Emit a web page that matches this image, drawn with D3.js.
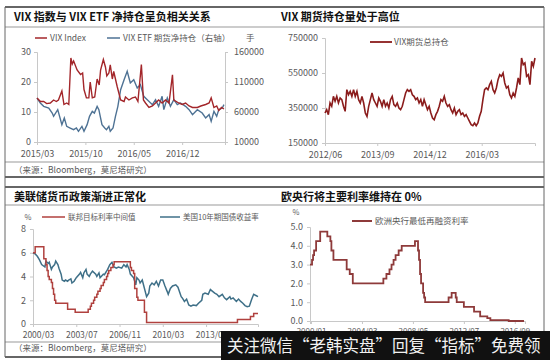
<!DOCTYPE html>
<html><head><meta charset="utf-8">
<script src="https://cdn.jsdelivr.net/npm/d3@7"></script>
<style>
body{margin:0;background:#fff}
svg{display:block}
text{font-family:"Noto Sans CJK SC","Noto Sans",sans-serif}
</style>
</head><body>
<svg id="c" width="550" height="360"></svg>
<script>
// ---------- Panel 1: VIX index vs VIX ETF net holdings ----------
const p1Start = "2015/03";
const vixMonth = [0,0.5,0.97,1.4,1.93,2.4,2.8,3.1,3.6,3.9,4.3,4.6,4.9,5.1,5.3,5.8,6.3,6.6,6.8,7.15,7.5,7.7,8.0,8.35,8.7,9.0,9.2,9.6,9.9,10.1,10.4,10.6,10.9,11.1,11.6,12.1,12.6,12.8,13.3,13.8,14.25,14.6,15.1,15.4,15.7,16.2,16.7,17.15,17.6,18.1,18.6,19.1,19.6,19.8,20.5,21.0,21.5,22.0,22.5,23.2,23.7,24.4,24.9,25.2,25.6,26.0,26.3,26.7,27.05];
const vixIndex = [14.7,13.5,13.5,12.8,13,14,13.5,14,17,12.5,13,12.5,28,26,27,24,22.5,23,17.5,14.7,14.7,20,14.7,15,21,19,24,27.5,25,22,23,25.7,21,23.5,18.5,14,13.5,15,14,14.7,15,13.5,25.8,14,13,11.5,12,13,14,13,14,13,22.4,14,13,12.5,13,12,11.5,11.5,12,12.5,13,14.7,11.5,12,10.5,11.5,11];
const etfMonth = [0,0.48,0.97,1.7,2.2,2.4,3.0,3.6,3.95,4.3,4.8,5.3,5.7,6.0,6.5,6.8,7.25,7.6,8.0,8.3,8.7,8.95,9.4,9.8,10.05,10.4,10.6,11.0,11.35,11.7,12.1,12.6,13.05,13.5,14.0,14.5,14.95,15.45,15.95,16.7,17.15,17.6,18.1,18.35,18.85,19.3,19.8,20.3,20.75,21.5,22.0,22.5,23.2,23.9,24.4,24.9,25.2,25.6,26.0,26.3,26.8,27.05];
const etfHold = [83300,75000,69400,66700,58300,52800,63900,38900,50000,36100,33300,30600,33300,27800,36100,27800,38900,52800,61100,58300,69400,63900,38900,33300,30600,36100,27800,33300,52800,69400,97200,113900,127800,108300,113900,100000,105600,86100,80600,72200,80600,69400,86100,63900,83300,69400,80600,72200,75000,69400,63900,55600,63900,58300,50000,55600,44400,61100,52800,63900,66700,72200];
const p1Ticks = ["2015/03","2015/10","2016/05","2016/12"];
const p1LeftTicks = [0,10,20,30];
const p1RightTicks = [10000,60000,110000,160000];

// ---------- Panel 2: VIX futures total open interest (biweekly) ----------
const oiStart = "2012/06";
const oiSpanMonths = 60.3;
const oiTotal = [321500,340500,312000,378600,359600,416700,388000,416700,378600,407000,
397700,359600,331000,454800,426000,445000,416700,454800,416700,445000,
397700,378600,416700,378600,321500,302400,359600,397700,435800,397700,
378600,359600,407000,388000,359600,397700,359600,378600,350000,397700,
416700,369000,359600,378600,350000,340500,359600,397700,435800,454800,
445000,454800,426000,416700,397700,407000,378600,397700,359600,397700,
369000,340500,359600,321500,292900,283400,312000,331000,359600,397700,
388000,416700,378600,359600,369000,340500,321500,350000,312000,331000,
340500,312000,321500,302400,312000,292900,273800,254800,249000,264300,
249000,264300,302400,331000,397700,454800,464300,454800,483400,502400,
454800,435800,464300,512000,540500,531000,550000,492900,464300,474000,
426000,407000,435800,416700,464300,521500,483400,635800,597700,607000,
531000,540500,483400,616700,588000,635800];
const p2Ticks = ["2012/06","2013/09","2014/12","2016/03"];
const p2YTicks = [150000,350000,550000,750000];

// ---------- Panel 3: Fed target rate & US 10Y ----------
const fedDate = ["2000/03","2000/05","2001/01","2001/03","2001/04","2001/05","2001/06","2001/08","2001/09","2001/10","2001/11","2001/12","2002/11","2003/06","2004/06","2004/08","2004/09","2004/11","2004/12","2005/02","2005/03","2005/05","2005/06","2005/08","2005/09","2005/11","2005/12","2006/01","2006/03","2006/05","2006/06","2007/09","2007/10","2007/12","2008/01","2008/03","2008/04","2008/10","2008/12","2015/12","2016/12","2017/03","2017/07"];
const fedRate = [6.0,6.5,5.5,5.0,4.5,4.0,3.75,3.5,3.0,2.5,2.0,1.75,1.25,1.0,1.25,1.5,1.75,2.0,2.25,2.5,2.75,3.0,3.25,3.5,3.75,4.0,4.25,4.5,4.75,5.0,5.25,4.75,4.5,4.25,3.0,2.25,2.0,1.0,0.125,0.375,0.625,0.875,0.875];
const ustDate = ["2000/03","2000/05","2000/07","2000/09","2000/11","2001/02","2001/03","2001/05","2001/06","2001/08","2001/09","2001/11","2001/12","2002/02","2002/03","2002/05","2002/06","2002/08","2002/09","2002/11","2002/12","2003/02","2003/03","2003/05","2003/07","2003/10","2003/11","2004/01","2004/02","2004/04","2004/05","2004/07","2004/08","2004/10","2005/01","2005/02","2005/04","2005/05","2005/08","2005/09","2005/12","2006/02","2006/04","2006/06","2006/08","2006/10","2007/01","2007/03","2007/05","2007/06","2007/08","2007/09","2007/11","2007/12","2008/02","2008/03","2008/05","2008/06","2008/08","2008/12","2009/02","2009/03","2009/05","2009/07","2009/09","2009/11","2010/01","2010/03","2010/05","2010/07","2010/08","2010/10","2010/12","2011/03","2011/05","2011/08","2011/09","2011/11","2012/01","2012/03","2012/05","2012/07","2012/10","2012/12","2013/03","2013/04","2013/06","2013/09","2013/11","2014/01","2014/03","2014/05","2014/07","2014/10","2014/12","2015/02","2015/05","2015/06","2015/08","2015/11","2016/01","2016/03","2016/05","2016/07","2016/09","2016/11","2017/01","2017/03","2017/05","2017/07"];
const ustYield = [6.0,5.9,5.7,5.4,5.0,4.8,5.3,5.1,5.2,4.6,4.8,5.0,5.3,5.0,4.7,4.2,3.7,3.6,3.7,3.6,3.7,3.8,3.45,3.6,3.9,4.2,4.35,3.9,4.3,4.6,4.2,4.0,4.2,4.45,4.2,4.0,4.3,3.9,4.2,4.15,4.6,5.0,5.2,4.8,4.7,4.8,4.7,5.0,4.8,5.0,4.6,4.2,4.0,3.9,3.3,3.9,3.7,3.45,3.7,2.3,2.6,3.2,3.45,3.3,3.6,3.2,3.7,3.7,3.2,2.75,2.5,3.0,3.2,3.3,3.1,2.3,2.2,1.9,2.1,1.6,1.5,1.6,1.55,1.75,2.0,2.5,2.6,2.5,2.9,2.75,2.6,2.5,2.3,2.5,2.2,2.05,2.3,2.1,2.2,1.9,2.1,1.9,1.75,1.55,1.45,1.5,2.05,2.5,2.4,2.3];
const p3Ticks = ["2000/03","2003/07","2006/11","2010/03","2013/07"];
const p3YTicks = [0,2,4,6,8];

// ---------- Panel 4: ECB main refinancing rate ----------
const ecbDate = ["1999/12","2000/02","2000/03","2000/04","2000/06","2000/10","2001/05","2001/08","2001/09","2001/11","2002/12","2003/03","2003/06","2005/12","2006/03","2006/06","2006/08","2006/10","2006/12","2007/03","2007/06","2008/07","2008/10","2008/11","2008/12","2009/01","2009/03","2009/04","2009/05","2011/04","2011/07","2011/11","2011/12","2012/07","2013/05","2013/11","2014/06","2014/09","2016/03","2017/06"];
const ecbRate = [3.0,3.25,3.5,3.75,4.25,4.75,4.5,4.25,3.75,3.25,2.75,2.5,2.0,2.25,2.5,2.75,3.0,3.25,3.5,3.75,4.0,4.25,3.75,3.25,2.5,2.0,1.5,1.25,1.0,1.25,1.5,1.25,1.0,0.75,0.5,0.25,0.15,0.05,0.0,0.0];
const p4Ticks = ["2000/01","2004/03","2008/05","2012/07","2016/09"];
const p4YTicks = [0,1,2,3,4,5];

// ---------- helpers ----------
const M = s => { const [y, m] = s.split("/").map(Number); return y * 12 + m - 1; };
const svg = d3.select("#c");
const TICK = "#595959", AXIS = "#c8c8c8";
const plain = d3.format("d");

function line(x1, y1, x2, y2, color, w) {
  svg.append("line").attr("x1", x1).attr("y1", y1).attr("x2", x2).attr("y2", y2)
    .attr("stroke", color).attr("stroke-width", w);
}
function txt(x, y, s, size, opts = {}) {
  return svg.append("text").attr("x", x).attr("y", y).text(s)
    .attr("font-size", size).attr("fill", opts.fill || TICK)
    .attr("font-weight", opts.weight || "normal")
    .attr("text-anchor", opts.anchor || "start");
}
function styleAxis(g, size) {
  g.select(".domain").attr("stroke", AXIS);
  g.selectAll(".tick line").attr("stroke", AXIS);
  g.selectAll("text").attr("fill", TICK).attr("font-size", size)
    .attr("font-family", "'Noto Sans','DejaVu Sans',sans-serif");
}

// ---------- frames ----------
line(5, 7, 544, 7, "#333", 1.5);
line(5, 27, 544, 27, "#999", 1);
line(5, 162, 544, 162, "#999", 1);
line(5, 177, 544, 177, "#333", 1.5);
line(5, 187, 544, 187, "#333", 1.5);
line(5, 205, 544, 205, "#999", 1);
line(5, 342, 272, 342, "#999", 1);
line(5, 357, 544, 357, "#333", 1.5);
line(5, 7, 5, 357, "#666", 1);
line(544, 7, 544, 357, "#666", 1);

// ---------- Panel 1 ----------
txt(14, 21, "VIX 指数与 VIX ETF 净持仓呈负相关关系", 11, {fill: "#111", weight: "bold"});
const x1 = d3.scaleLinear().domain([M(p1Start), M(p1Start) + 27.2]).range([37, 225]);
const y1L = d3.scaleLinear().domain([0, 30]).range([142, 52]);
const y1R = d3.scaleLinear().domain([10000, 160000]).range([142, 52]);
styleAxis(svg.append("g").attr("transform", "translate(37,0)")
  .call(d3.axisLeft(y1L).tickValues(p1LeftTicks).tickSize(3).tickPadding(3)), 9);
styleAxis(svg.append("g").attr("transform", "translate(225,0)")
  .call(d3.axisRight(y1R).tickValues(p1RightTicks).tickFormat(plain).tickSize(3).tickPadding(6)), 9);
styleAxis(svg.append("g").attr("transform", "translate(0,142)")
  .call(d3.axisBottom(x1).tickValues(p1Ticks.map(M)).tickFormat((d, i) => p1Ticks[i]).tickSize(3).tickPadding(6)), 9);
svg.append("path").datum(etfMonth.map((m, i) => [M(p1Start) + m, etfHold[i]]))
  .attr("fill", "none").attr("stroke", "#4e7294").attr("stroke-width", 1.4)
  .attr("d", d3.line().x(d => x1(d[0])).y(d => y1R(d[1])));
svg.append("path").datum(vixMonth.map((m, i) => [M(p1Start) + m, vixIndex[i]]))
  .attr("fill", "none").attr("stroke", "#a3262a").attr("stroke-width", 1.4)
  .attr("d", d3.line().x(d => x1(d[0])).y(d => y1L(d[1])));
line(35, 38, 47, 38, "#a3262a", 1.5);
txt(50, 41, "VIX Index", 8.5);
line(107, 38, 120, 38, "#4e7294", 1.5);
txt(123, 41, "VIX ETF 期货净持仓（右轴）", 8.5);
txt(246, 41, "手", 8.5);
txt(14, 173, "（来源：Bloomberg，莫尼塔研究）", 8.5);

// ---------- Panel 2 ----------
txt(281, 21, "VIX 期货持仓量处于高位", 11, {fill: "#111", weight: "bold"});
const x2 = d3.scaleLinear().domain([M(oiStart), M(oiStart) + oiSpanMonths]).range([325, 535]);
const y2 = d3.scaleLinear().domain([150000, 750000]).range([143, 38]);
styleAxis(svg.append("g").attr("transform", "translate(325,0)")
  .call(d3.axisLeft(y2).tickValues(p2YTicks).tickFormat(plain).tickSize(3).tickPadding(4)), 9);
styleAxis(svg.append("g").attr("transform", "translate(0,143)")
  .call(d3.axisBottom(x2).tickValues(p2Ticks.map(M)).tickFormat((d, i) => p2Ticks[i]).tickSize(3).tickPadding(6)), 9);
const oiStep = oiSpanMonths / (oiTotal.length - 1);
svg.append("path").datum(oiTotal.map((v, i) => [M(oiStart) + i * oiStep, v]))
  .attr("fill", "none").attr("stroke", "#8b1c1c").attr("stroke-width", 1.6)
  .attr("d", d3.line().x(d => x2(d[0])).y(d => y2(d[1])));
line(370, 42, 392, 42, "#8b1c1c", 1.8);
txt(394, 45, "VIX期货总持仓", 8.5);

// ---------- Panel 3 ----------
txt(14, 201, "美联储货币政策渐进正常化", 11, {fill: "#111", weight: "bold"});
const x3 = d3.scaleLinear().domain([M("2000/03"), M("2017/07")]).range([33, 258]);
const y3 = d3.scaleLinear().domain([0, 8]).range([324, 229]);
styleAxis(svg.append("g").attr("transform", "translate(33,0)")
  .call(d3.axisLeft(y3).tickValues(p3YTicks).tickSize(3).tickPadding(4)), 9);
const ax3 = svg.append("g").attr("transform", "translate(0,324)")
  .call(d3.axisBottom(x3).tickValues(p3Ticks.map(M)).tickFormat((d, i) => p3Ticks[i]).tickSize(3).tickPadding(5));
styleAxis(ax3, 8.5);
ax3.selectAll(".tick text").attr("dx", 5);
svg.append("path").datum(ustDate.map((d, i) => [M(d), ustYield[i]]))
  .attr("fill", "none").attr("stroke", "#3f7088").attr("stroke-width", 1.5)
  .attr("d", d3.line().x(d => x3(d[0])).y(d => y3(d[1])));
svg.append("path").datum(fedDate.map((d, i) => [M(d), fedRate[i]]))
  .attr("fill", "none").attr("stroke", "#b0413e").attr("stroke-width", 1.5)
  .attr("d", d3.line().curve(d3.curveStepAfter).x(d => x3(d[0])).y(d => y3(d[1])));
txt(28, 220, "%", 7.5, {anchor: "middle"});
line(42, 217, 65, 217, "#b0413e", 1.5);
txt(68, 220, "联邦目标利率中间值", 7.5);
line(160, 217, 180, 217, "#3f7088", 1.5);
txt(183, 220, "美国10年期国债收益率", 7.5);
txt(14, 351, "（来源：Bloomberg，莫尼塔研究）", 8.5);

// ---------- Panel 4 ----------
txt(281, 201, "欧央行将主要利率维持在 0%", 11, {fill: "#111", weight: "bold"});
const x4 = d3.scaleLinear().domain([M("1999/12"), M("2017/07")]).range([310, 525]);
const y4 = d3.scaleLinear().domain([0, 5]).range([321, 227]);
styleAxis(svg.append("g").attr("transform", "translate(310,0)")
  .call(d3.axisLeft(y4).tickValues(p4YTicks).tickFormat(d3.format(".1f")).tickSize(3).tickPadding(4)), 9);
styleAxis(svg.append("g").attr("transform", "translate(0,321)")
  .call(d3.axisBottom(x4).tickValues(p4Ticks.map(M)).tickFormat((d, i) => p4Ticks[i]).tickSize(3).tickPadding(4)), 8);
svg.append("path").datum(ecbDate.map((d, i) => [M(d), ecbRate[i]]))
  .attr("fill", "none").attr("stroke", "#8e3a3a").attr("stroke-width", 1.8)
  .attr("d", d3.line().curve(d3.curveStepAfter).x(d => x4(d[0])).y(d => y4(d[1])));
txt(296, 215, "%", 7.5, {anchor: "middle"});
line(352, 221, 372, 221, "#8e3a3a", 2);
txt(375, 224, "欧洲央行最低再融资利率", 8.5);

// ---------- watermark banner ----------
svg.append("rect").attr("x", 221).attr("y", 331).attr("width", 329).attr("height", 29).attr("fill", "#111");
txt(227, 352, "关注微信“老韩实盘”回复“指标”免费领", 16.5, {fill: "#f2f2f2"});
</script>
</body></html>
